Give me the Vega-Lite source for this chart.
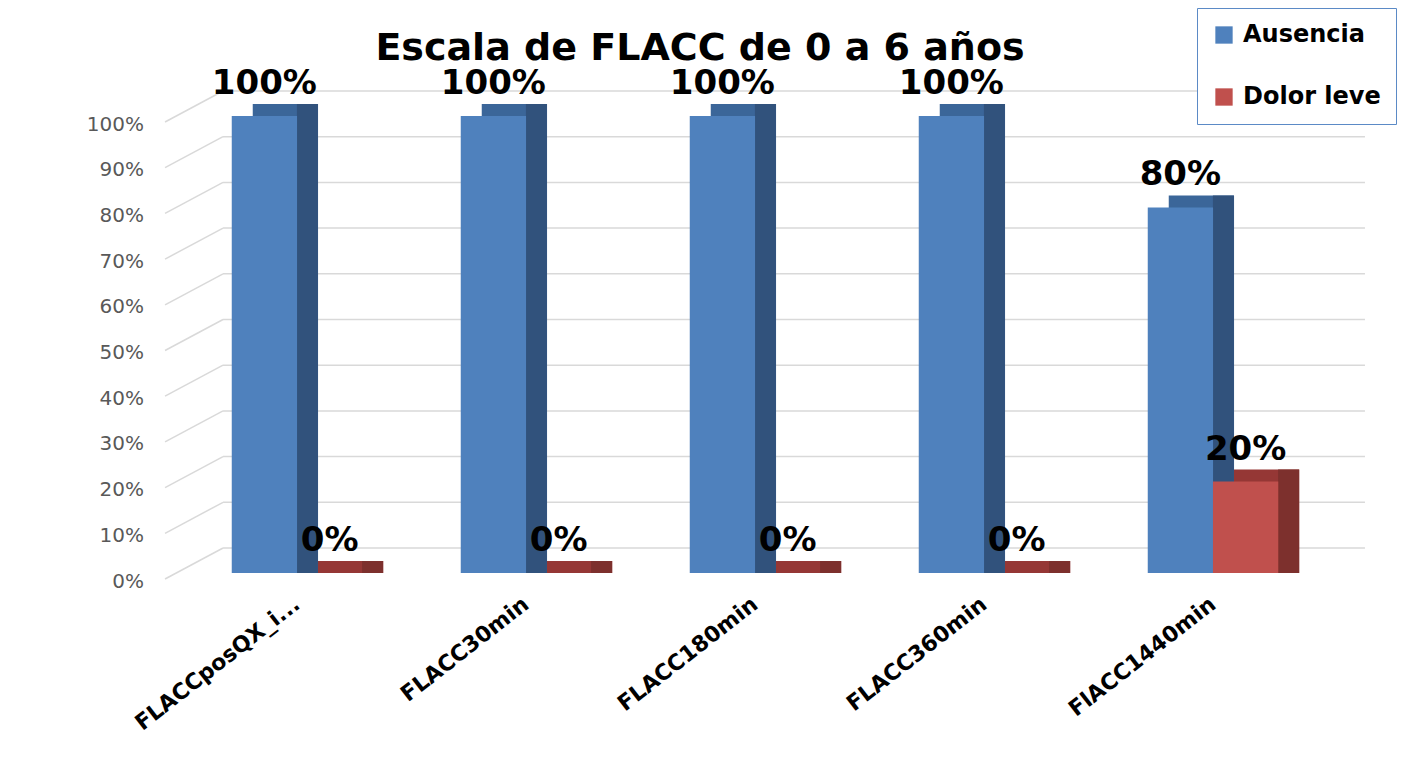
{
  "$schema": "https://vega.github.io/schema/vega-lite/v6.json",
  "autosize": {"type": "none"},
  "width": 1145,
  "height": 457,
  "padding": {"left": 182.5, "top": 116, "right": 78.5, "bottom": 193},
  "background": "white",
  "title": {
    "text": "Escala de FLACC de 0 a 6 años",
    "font": "DejaVu Sans",
    "fontSize": 38,
    "fontWeight": "bold",
    "color": "black",
    "anchor": "middle",
    "frame": "group",
    "baseline": "alphabetic",
    "dx": -55,
    "offset": -90
  },
  "datasets": {
    "bars": [
      {"momento": "FLACCposQX_i...", "serie": "Ausencia", "valor": 1.0},
      {"momento": "FLACCposQX_i...", "serie": "Dolor leve", "valor": 0.0},
      {"momento": "FLACC30min", "serie": "Ausencia", "valor": 1.0},
      {"momento": "FLACC30min", "serie": "Dolor leve", "valor": 0.0},
      {"momento": "FLACC180min", "serie": "Ausencia", "valor": 1.0},
      {"momento": "FLACC180min", "serie": "Dolor leve", "valor": 0.0},
      {"momento": "FLACC360min", "serie": "Ausencia", "valor": 1.0},
      {"momento": "FLACC360min", "serie": "Dolor leve", "valor": 0.0},
      {"momento": "FlACC1440min", "serie": "Ausencia", "valor": 0.8},
      {"momento": "FlACC1440min", "serie": "Dolor leve", "valor": 0.2}
    ],
    "ticks": [
      {"tick": 0.0}, {"tick": 0.1}, {"tick": 0.2}, {"tick": 0.3}, {"tick": 0.4},
      {"tick": 0.5}, {"tick": 0.6}, {"tick": 0.7}, {"tick": 0.8}, {"tick": 0.9}, {"tick": 1.0}
    ]
  },
  "config": {
    "view": {"stroke": null},
    "axis": {"domain": false, "ticks": false, "grid": false, "title": null}
  },
  "encoding": {
    "x": {"field": "momento", "type": "nominal", "sort": ["FLACCposQX_i...", "FLACC30min", "FLACC180min", "FLACC360min", "FlACC1440min"],
          "scale": {"paddingInner": 0.43, "paddingOuter": 0.215},
          "axis": {"labelAngle": -38, "labelAlign": "right", "labelBaseline": "middle",
                   "labelFont": "DejaVu Sans", "labelFontSize": 22, "labelFontWeight": "bold",
                   "labelColor": "black", "labelPadding": 28, "labelLimit": 400}},
    "y": {"field": "valor", "type": "quantitative", "scale": {"domain": [0, 1], "nice": false},
          "axis": {"values": [0, 0.1, 0.2, 0.3, 0.4, 0.5, 0.6, 0.7, 0.8, 0.9, 1.0], "format": ".0%",
                   "labelFont": "DejaVu Sans", "labelFontSize": 20, "labelColor": "#595959",
                   "labelPadding": 39, "labelOffset": 8}}
  },
  "layer": [
    {
      "data": {"name": "ticks"},
      "mark": {"type": "rule", "color": "#d9d9d9", "strokeWidth": 1.5, "yOffset": -25, "xOffset": -8.7, "x2Offset": 86.7},
      "encoding": {
        "x": {"datum": "FLACCposQX_i...", "type": "nominal", "bandPosition": 0},
        "x2": {"datum": "FlACC1440min", "bandPosition": 1},
        "y": {"field": "tick", "type": "quantitative"}
      }
    },
    {
      "data": {"name": "ticks"},
      "mark": {"type": "rule", "color": "#d9d9d9", "strokeWidth": 1.5, "yOffset": 6, "y2Offset": -25, "xOffset": -66.7, "x2Offset": -8.7},
      "encoding": {
        "x": {"datum": "FLACCposQX_i...", "type": "nominal", "bandPosition": 0},
        "x2": {"datum": "FLACCposQX_i...", "bandPosition": 0},
        "y": {"field": "tick", "type": "quantitative"},
        "y2": {"field": "tick"}
      }
    },
    {
      "data": {"name": "bars"},
      "transform": [{"filter": "datum.serie === 'Ausencia'"}],
      "mark": {"type": "bar", "width": 65.3, "xOffset": -11.6, "yOffset": -12, "y2Offset": 0.01, "color": "#3B6699"},
      "encoding": {"y2": {"datum": 0}}
    },
    {
      "data": {"name": "bars"},
      "transform": [{"filter": "datum.serie === 'Dolor leve'"}],
      "mark": {"type": "bar", "width": 65.3, "xOffset": 53.6, "yOffset": -12, "y2Offset": 0.01, "color": "#953735"},
      "encoding": {"y2": {"datum": 0}}
    },
    {
      "data": {"name": "bars"},
      "transform": [{"filter": "datum.serie === 'Ausencia'"}],
      "mark": {"type": "bar", "width": 21, "xOffset": 10.4, "yOffset": -12, "y2Offset": 0.01, "color": "#31527C"},
      "encoding": {"y2": {"datum": 0}}
    },
    {
      "data": {"name": "bars"},
      "transform": [{"filter": "datum.serie === 'Dolor leve'"}],
      "mark": {"type": "bar", "width": 21, "xOffset": 75.6, "yOffset": -12, "y2Offset": 0.01, "color": "#7D302D"},
      "encoding": {"y2": {"datum": 0}}
    },
    {
      "data": {"name": "bars"},
      "transform": [{"filter": "datum.serie === 'Ausencia'"}],
      "mark": {"type": "bar", "width": 65.3, "xOffset": -32.6},
      "encoding": {
        "color": {"field": "serie", "type": "nominal",
                  "scale": {"domain": ["Ausencia", "Dolor leve"], "range": ["#4F81BD", "#C0504D"]},
                  "legend": {"orient": "none", "legendX": 1014.5, "legendY": -108, "title": null,
                             "symbolType": "square", "symbolSize": 300, "symbolStrokeWidth": 0,
                             "labelFont": "DejaVu Sans", "labelFontSize": 24, "labelFontWeight": "bold",
                             "labelColor": "black", "labelOffset": 7, "rowPadding": 38,
                             "padding": 15, "strokeColor": "#5B8AC6", "fillColor": "white"}}
      }
    },
    {
      "data": {"name": "bars"},
      "transform": [{"filter": "datum.serie === 'Dolor leve'"}],
      "mark": {"type": "bar", "width": 65.3, "xOffset": 32.6},
      "encoding": {
        "color": {"field": "serie", "type": "nominal",
                  "scale": {"domain": ["Ausencia", "Dolor leve"], "range": ["#4F81BD", "#C0504D"]}}
      }
    },
    {
      "data": {"name": "bars"},
      "mark": {"type": "text", "font": "DejaVu Sans", "fontSize": 34, "fontWeight": "bold",
               "color": "black", "baseline": "alphabetic", "dy": -22},
      "encoding": {
        "xOffset": {"field": "serie", "type": "nominal", "sort": ["Ausencia", "Dolor leve"], "scale": {"paddingInner": 0}},
        "text": {"field": "valor", "type": "quantitative", "format": ".0%"}
      }
    }
  ]
}
